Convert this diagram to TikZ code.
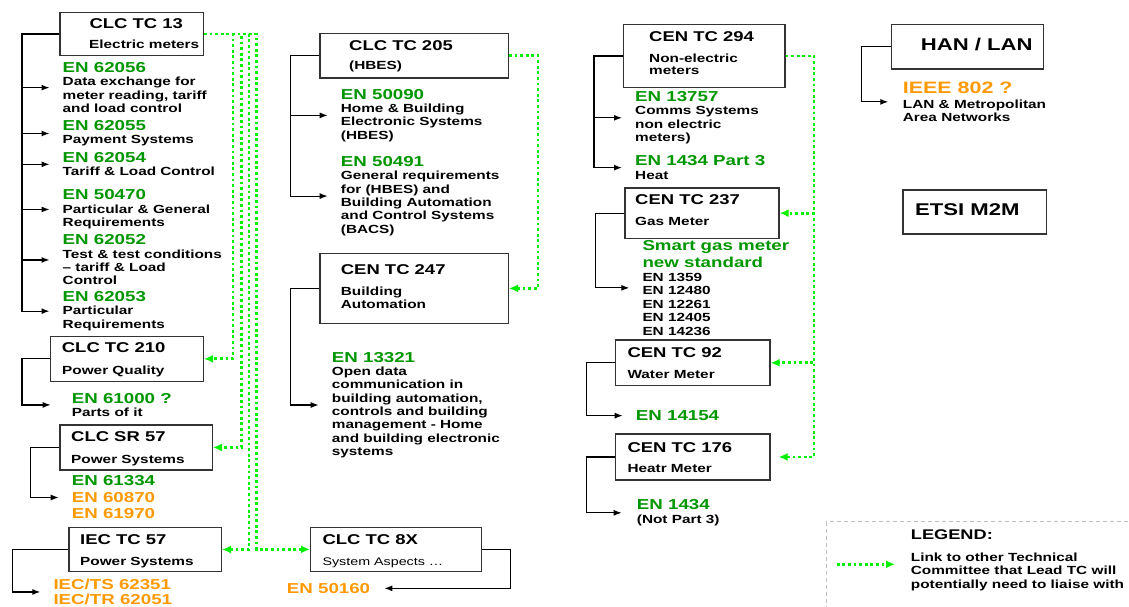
\documentclass[tikz,border=0pt]{standalone}
\usepackage{fontspec}
\newfontfamily\arl[FakeStretch=1.3]{Liberation Sans}
\usetikzlibrary{arrows.meta}
\definecolor{engreen}{RGB}{0,150,0}
\definecolor{enorange}{RGB}{255,153,0}
\definecolor{lkgreen}{RGB}{0,240,0}
\newcommand\en[1]{{\color{engreen}\fontsize{14.4}{16.5}\selectfont #1}}
\newcommand\eo[1]{{\color{enorange}\fontsize{14.4}{16.5}\selectfont #1}}
\tikzset{
  tcbox/.style={draw=black!80, line width=1.3pt, anchor=north west, inner sep=0pt},
  ttl/.style={anchor=base west, inner sep=0pt, font=\arl\bfseries\fontsize{14.2}{16}\selectfont},
  big/.style={ttl, font=\arl\bfseries\fontsize{17}{20}\selectfont},
  sub/.style={anchor=base west, inner sep=0pt, align=left, font=\arl\bfseries\fontsize{11.8}{13.3}\selectfont},
  std/.style={anchor=north west, inner sep=0pt, align=left, font=\arl\bfseries\fontsize{11.8}{13.3}\selectfont},
  br/.style={draw=black, line width=1.2pt, -{Latex[length=8pt,width=6pt]}, shorten >=13pt},
  lk/.style={draw=lkgreen, line width=2.8pt, dash pattern=on 2.8pt off 2.8pt, -{Latex[length=9pt,width=8pt]}},
}
\begin{document}
\begin{tikzpicture}[x=1pt,y=-1pt]
\useasboundingbox (0,0) rectangle (1129,606);
% CLC TC 13 and its standards
\node[tcbox, minimum width=143.4pt, minimum height=43.3pt] (tc13) at (59.3,11.7) {};
\node[ttl] (tc13t) at (89.3,28.3) {CLC TC 13};
\node[sub] (tc13s) at (89,48.7) {Electric meters};
\node[std] (b62056) at (62.5,62.4) {\en{EN 62056}\\Data exchange for\\meter reading, tariff\\and load control};
\node[std] (b62055) at (62.5,120.4) {\en{EN 62055}\\Payment Systems};
\node[std] (b62054) at (62.5,152.4) {\en{EN 62054}\\Tariff \& Load Control};
\node[std] (b50470) at (62.5,189.7) {\en{EN 50470}\\Particular \& General\\Requirements};
\node[std] (b62052) at (62.5,234.7) {\en{EN 62052}\\Test \& test conditions\\– tariff \& Load\\Control};
\node[std] (b62053) at (62.5,291.4) {\en{EN 62053}\\Particular\\Requirements};
\draw[br] (tc13.west) -- ++(-37.3,0) coordinate (s13) |- (b62053.west);
\foreach \b in {b62056,b62055,b62054,b50470,b62052}
  \draw[br] (s13 |- \b.west) -- (\b.west);
% CLC TC 210
\node[tcbox, minimum width=152.7pt, minimum height=45pt] (tc210) at (50,335.7) {};
\node[ttl] (tc210t) at (61.7,352.7) {CLC TC 210};
\node[sub] (tc210s) at (62,374.3) {Power Quality};
\node[std] (b61000) at (71.7,393) {\en{EN 61000 ?}\\Parts of it};
\draw[br, shorten >=21pt] (tc210.west) -- ++(-28,0) |- (b61000.west);
% CLC SR 57
\node[tcbox, minimum width=152.4pt, minimum height=45pt] (sr57) at (59.3,424.3) {};
\node[ttl] (sr57t) at (71,441.7) {CLC SR 57};
\node[sub] (sr57s) at (71,463.3) {Power Systems};
\node[std, font=\arl\bfseries\fontsize{14.4}{16.5}\selectfont] (b61334) at (71.7,475.7) {\en{EN 61334}\\\eo{EN 60870}\\\eo{EN 61970}};
\draw[br] (sr57.west) -- ++(-28.6,0) |- (b61334.west);
% IEC TC 57
\node[tcbox, minimum width=152.4pt, minimum height=44.3pt] (iec57) at (68.3,526.7) {};
\node[ttl] (iec57t) at (80,544) {IEC TC 57};
\node[sub] (iec57s) at (80,565.7) {Power Systems};
\node[std, font=\arl\bfseries\fontsize{14.4}{14.8}\selectfont] (b62351) at (53.3,579) {\eo{IEC/TS 62351}\\\eo{IEC/TR 62051}};
\draw[br] (iec57.west) -- ++(-55.6,0) |- (b62351.west);
% CLC TC 205
\node[tcbox, minimum width=188.4pt, minimum height=44.6pt] (tc205) at (319.3,32.7) {};
\node[ttl] (tc205t) at (349,50.7) {CLC TC 205};
\node[sub] (tc205s) at (349,69.3) {(HBES)};
\node[std] (b50090) at (340.7,89) {\en{EN 50090}\\Home \& Building\\Electronic Systems\\(HBES)};
\node[std] (b50491) at (340.7,156.4) {\en{EN 50491}\\General requirements\\for (HBES) and\\Building Automation\\and Control Systems\\(BACS)};
\draw[br] (tc205.west) -- ++(-28.6,0) coordinate (s205) |- (b50491.west);
\draw[br] (s205 |- b50090.west) -- (b50090.west);
% CEN TC 247
\node[tcbox, minimum width=188.4pt, minimum height=70pt] (tc247) at (319.3,252.7) {};
\node[ttl] (tc247t) at (340.7,274) {CEN TC 247};
\node[sub, anchor=north west] (tc247s) at (340.7,286.6) {Building\\Automation};
\node[std] (b13321) at (331.7,352) {\en{EN 13321}\\Open data\\communication in\\building automation,\\controls and building\\management - Home\\and building electronic\\systems};
\draw[br] (tc247.west) -- ++(-28.6,0) |- (b13321.west);
% CLC TC 8X
\node[tcbox, minimum width=170.7pt, minimum height=44pt] (tc8x) at (310,526.7) {};
\node[ttl] (tc8xt) at (322.3,544.3) {CLC TC 8X};
\node[sub, font=\arl\fontsize{11}{13}\selectfont] (tc8xs) at (322.3,565) {System Aspects …};
\node[anchor=base west, inner sep=0pt, font=\arl\bfseries] (b50160) at (286.7,593.3) {\eo{EN 50160}};
\draw[br, shorten >=14pt] (tc8x.east) -- ++(28.6,0) |- (b50160.east);
% CEN TC 294
\node[tcbox, minimum width=161.6pt, minimum height=62.7pt] (tc294) at (622.7,24) {};
\node[ttl] (tc294t) at (649,41.7) {CEN TC 294};
\node[sub, anchor=north west] (tc294s) at (649,53.9) {Non-electric\\[-1.5pt]meters};
\node[std] (b13757) at (635,91.4) {\en{EN 13757}\\Comms Systems\\non electric\\meters)};
\node[std] (b1434p3) at (635,155.7) {\en{EN 1434 Part 3}\\Heat};
\draw[br] (tc294.west) -- ++(-28.7,0) coordinate (s294) |- (b1434p3.west);
\draw[br] (s294 |- b13757.west) -- (b13757.west);
% CEN TC 237
\node[tcbox, minimum width=154pt, minimum height=50.4pt] (tc237) at (624.3,187.3) {};
\node[ttl] (tc237t) at (635,204.3) {CEN TC 237};
\node[sub] (tc237s) at (635,225) {Gas Meter};
\node[std, font=\arl\bfseries\fontsize{11.8}{13.4}\selectfont] (bgas) at (642.3,240.2) {\en{Smart gas meter}\\[2.6pt]\en{new standard}\\[0.6pt]EN 1359\\EN 12480\\EN 12261\\EN 12405\\EN 14236};
\draw[br] (tc237.west) -- ++(-28.6,0) |- (bgas.west);
% CEN TC 92
\node[tcbox, minimum width=154.3pt, minimum height=45.7pt] (tc92) at (615,339.3) {};
\node[ttl] (tc92t) at (627.3,357.3) {CEN TC 92};
\node[sub] (tc92s) at (627.3,378.3) {Water Meter};
\node[std] (b14154) at (635.7,410.4) {\en{EN 14154}};
\draw[br] (tc92.west) -- ++(-28.3,0) |- (b14154.west);
% CEN TC 176
\node[tcbox, minimum width=154.3pt, minimum height=46pt] (tc176) at (615,433.3) {};
\node[ttl] (tc176t) at (627.3,452.3) {CEN TC 176};
\node[sub] (tc176s) at (627.3,472.7) {Heatr Meter};
\node[std] (b1434) at (636.7,499.7) {\en{EN 1434}\\(Not Part 3)};
\draw[br, shorten >=15pt] (tc176.west) -- ++(-28.3,0) |- (b1434.west);
% HAN / LAN and ETSI
\node[tcbox, minimum width=152pt, minimum height=44.3pt] (han) at (890.7,24) {};
\node[big] (hant) at (920.7,50.7) {HAN / LAN};
\node[std, font=\arl\bfseries\fontsize{11.8}{13}\selectfont] (bieee) at (902.7,81.5) {{\color{enorange}\fontsize{16.5}{18}\selectfont IEEE 802 ?}\\[2.7pt]LAN \& Metropolitan\\Area Networks};
\draw[br, shorten >=14.4pt] (han.west) -- ++(-29,0) |- (bieee.west);
\node[tcbox, minimum width=143.4pt, minimum height=44pt] (etsi) at (902.3,189.3) {};
\node[big] (etsit) at (915,215) {ETSI M2M};
% liaison links
\draw[lk] (tc13.east) -- ++(29,0) |- (tc210.east);
\draw[lk] (tc13.east) -- ++(37.3,0) |- (sr57.east);
\draw[lk] (tc13.east) -- ++(45,0) |- (iec57.east);
\draw[lk] (tc13.east) -- ++(52.5,0) |- (tc8x.west);
\draw[lk] (tc205.east) -- ++(29,0) |- (tc247.east);
\draw[lk] (tc294.east) -- ++(28.4,0) |- (tc237.east);
\draw[lk] (tc294.east) -- ++(28.4,0) |- (tc92.east);
\draw[lk, shorten >=8pt] (tc294.east) -- ++(28.4,0) |- (tc176.east);
% legend
\node[draw=black!25, dash pattern=on 4pt off 3pt, line width=1pt, anchor=north west, inner sep=0pt, minimum width=330pt, minimum height=110pt] (legbox) at (826,521) {};
\node[ttl, font=\arl\bfseries\fontsize{14}{16}\selectfont] (legt) at (910.7,539.3) {LEGEND:};
\node[std, font=\arl\bfseries\fontsize{11.8}{13.8}\selectfont] (legd) at (910.7,552.3) {Link to other Technical\\Committee that Lead TC will\\potentially need to liaise with};
\coordinate (lg1) at (836.7,564.3);
\coordinate (lg2) at (895,564.3);
\draw[lk] (lg1) -- (lg2);
\end{tikzpicture}
\end{document}
